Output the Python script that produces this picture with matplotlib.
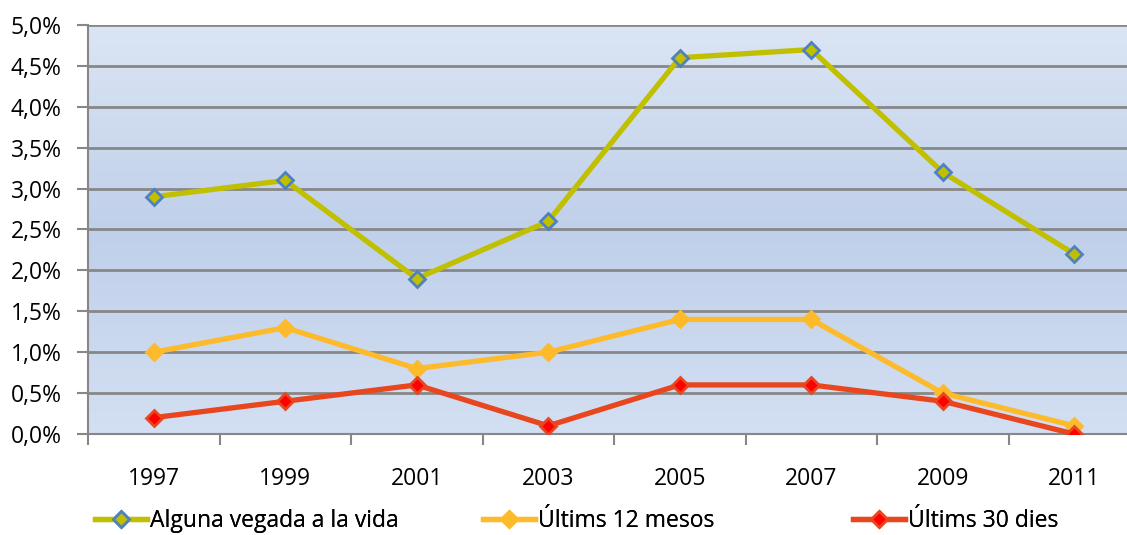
import numpy as np
import matplotlib.pyplot as plt
from matplotlib.colors import LinearSegmentedColormap
from matplotlib.lines import Line2D
from matplotlib.ticker import FuncFormatter

anys = ['1997', '1999', '2001', '2003', '2005', '2007', '2009', '2011']
alguna_vegada = [2.9, 3.1, 1.9, 2.6, 4.6, 4.7, 3.2, 2.2]
ultims_12_mesos = [1.0, 1.3, 0.8, 1.0, 1.4, 1.4, 0.5, 0.1]
ultims_30_dies = [0.2, 0.4, 0.6, 0.1, 0.6, 0.6, 0.4, 0.0]
noms = ['Alguna vegada a la vida', 'Últims 12 mesos', 'Últims 30 dies']

plt.rcParams['font.family'] = ['Open Sans', 'DejaVu Sans']
FS = 16.5

W, H = 1127, 535
fig = plt.figure(figsize=(W / 100, H / 100), dpi=100)
# l'àrea del gràfic continua més enllà de la vora dreta
ax = fig.add_axes([88 / W, 1 - 434 / H, (1140 - 88) / W, (434 - 25) / H])

# fons amb degradat vertical
fons = LinearSegmentedColormap.from_list(
    'fons', ['#dbe5f4', '#c0d0ea', '#d3dff2'])
grad = np.linspace(0, 1, 256).reshape(-1, 1)
ax.imshow(grad, cmap=fons, aspect='auto', extent=[0, 1, 0, 1],
          transform=ax.transAxes, zorder=0)

estils = [
    dict(color='#c0c000', mfc='#c0c000', mec='#4f81bd'),
    dict(color='#fdbb2c', mfc='#fdbb2c', mec='#fdbb2c'),
    dict(color='#e8461e', mfc='#ff0000', mec='#e8461e'),
]
comuns = dict(lw=3.8, marker='D', ms=8, mew=2)

x = np.arange(len(anys))
ax.plot(x, alguna_vegada, zorder=4, **estils[0], **comuns)
ax.plot(x, ultims_12_mesos, zorder=3, **estils[1], **comuns)
ax.plot(x, ultims_30_dies, zorder=5, **estils[2], **comuns)

ax.set_xlim(-0.5, len(anys) - 0.5)
ax.set_ylim(0, 5.0)
ax.set_yticks(np.arange(0, 5.01, 0.5))
ax.yaxis.set_major_formatter(FuncFormatter(lambda v, p: f"{v:.1f}%".replace('.', ',')))
ax.set_xticks(x)
ax.set_xticklabels(anys)
ax.set_xticks(np.arange(-0.5, len(anys)), minor=True)

ax.grid(axis='y', color='#878787', lw=2, zorder=1)
ax.set_axisbelow(True)
for s in ['top', 'right']:
    ax.spines[s].set_visible(False)
for s in ['left', 'bottom']:
    ax.spines[s].set_color('#878787')
    ax.spines[s].set_linewidth(1.5)

ax.tick_params(axis='y', which='major', length=8, width=1.5, color='#878787',
               labelsize=FS, pad=11)
ax.tick_params(axis='x', which='major', length=0, labelsize=FS, pad=24)
ax.tick_params(axis='x', which='minor', length=8, width=1.5, color='#878787')

# una entrada de llegenda per sèrie, cadascuna a la seva posició
for est, nom, x0 in zip(estils, noms, [95, 483, 853]):
    leg = fig.legend([Line2D([], [], **est, **comuns)], [nom], loc='center left',
                     bbox_to_anchor=(x0 / W, 1 - 521 / H), frameon=False,
                     fontsize=FS, borderpad=0, borderaxespad=0,
                     handlelength=2.25, handletextpad=0.17)
    fig.add_artist(leg)

fig.savefig('out.png', dpi=100)
